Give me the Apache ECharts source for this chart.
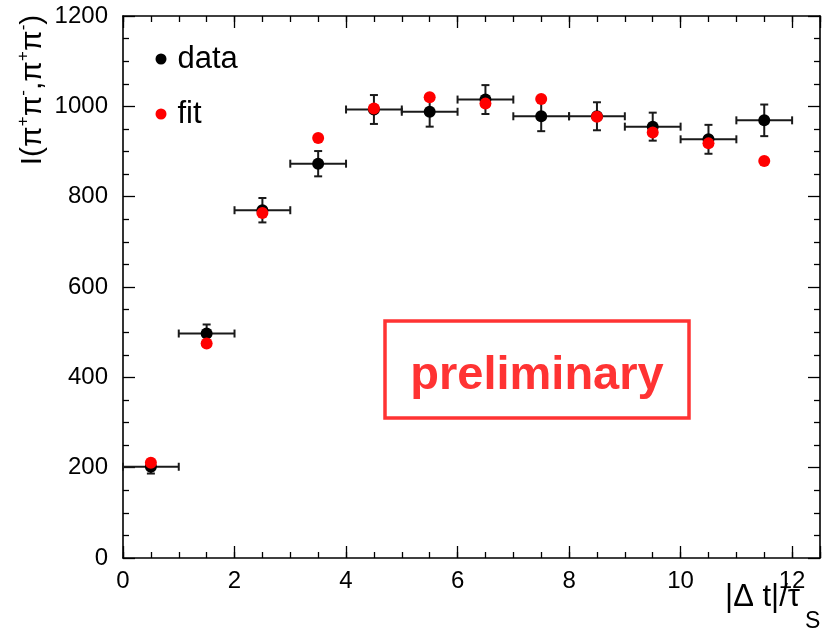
<!DOCTYPE html>
<html>
<head>
<meta charset="utf-8">
<script src="https://cdn.jsdelivr.net/npm/echarts@6/dist/echarts.min.js"></script>
<style>
  html, body { margin: 0; padding: 0; background: #fff; }
  #chart { width: 836px; height: 637px; }
</style>
</head>
<body>
<div id="chart"></div>
<script>
// ---- data ----
const binCenters = [0.5, 1.5, 2.5, 3.5, 4.5, 5.5, 6.5, 7.5, 8.5, 9.5, 10.5, 11.5];
const binHalfWidth = 0.5;
const dataValues = [202, 497, 770, 873, 993, 988, 1015, 978, 978, 955, 927, 969];
const dataErrors = [15, 20, 27, 28, 32, 33, 32, 33, 31, 31, 32, 35];
const fitValues  = [211, 475, 764, 930, 995, 1020, 1006, 1016, 977, 942, 918, 879];
const xTickLabels = ['0', '2', '4', '6', '8', '10', '12'];
const yTickLabels = ['0', '200', '400', '600', '800', '1000', '1200'];

const FONT = '"Liberation Sans", Arial, Helvetica, sans-serif';
const chart = echarts.init(document.getElementById('chart'), null, { renderer: 'canvas' });

const errData = binCenters.map((x, i) => [x, dataValues[i], binHalfWidth, dataErrors[i]]);
const dataPts = binCenters.map((x, i) => [x, dataValues[i]]);
const fitPts = binCenters.map((x, i) => [x, fitValues[i]]);

function xAxisDef(pos, minor, labels) {
  return {
    type: 'value', gridIndex: 0, position: pos, min: 0, max: 12.5,
    interval: minor ? 0.5 : 2,
    axisLine: { show: !minor, onZero: false, lineStyle: { color: '#000', width: 1.6 } },
    axisTick: { show: true, inside: true, length: minor ? 6 : 12, lineStyle: { color: '#000', width: 1.3 } },
    axisLabel: {
      show: labels, margin: 11, color: '#000', fontSize: 24, fontFamily: FONT,
      formatter: v => (xTickLabels.indexOf(String(v)) >= 0 ? String(v) : '')
    },
    splitLine: { show: false }
  };
}
function yAxisDef(pos, labels) {
  return {
    type: 'value', gridIndex: 0, position: pos, min: 0, max: 1200, interval: 200,
    axisLine: { show: true, onZero: false, lineStyle: { color: '#000', width: 1.6 } },
    axisTick: { show: true, inside: true, length: 12, lineStyle: { color: '#000', width: 1.3 } },
    minorTick: { show: true, splitNumber: 4, length: 6, lineStyle: { color: '#000', width: 1.3 } },
    axisLabel: {
      show: labels, margin: 15, color: '#000', fontSize: 24, fontFamily: FONT,
      formatter: v => (yTickLabels.indexOf(String(v)) >= 0 ? String(v) : '')
    },
    splitLine: { show: false }
  };
}

const option = {
  animation: false,
  backgroundColor: '#fff',
  grid: { left: 123, right: 16, top: 16, bottom: 79, containLabel: false },
  xAxis: [
    xAxisDef('bottom', false, true),
    xAxisDef('bottom', true, false),
    xAxisDef('top', false, false),
    xAxisDef('top', true, false)
  ],
  yAxis: [yAxisDef('left', true), yAxisDef('right', false)],
  legend: {
    orient: 'vertical', left: 155.5, top: 42, itemGap: 21, padding: 0,
    itemWidth: 11, itemHeight: 11, selectedMode: false,
    data: [{ name: 'data', icon: 'circle' }, { name: 'fit', icon: 'circle' }],
    textStyle: { fontSize: 31, fontFamily: FONT, color: '#000', lineHeight: 34, padding: [0, 0, 0, 6] }
  },
  series: [
    {
      type: 'custom', name: 'errors', xAxisIndex: 0, yAxisIndex: 0, data: errData, z: 2,
      renderItem: function (params, api) {
        const x = api.value(0), y = api.value(1), ex = api.value(2), ey = api.value(3);
        const l = api.coord([x - ex, y]), r = api.coord([x + ex, y]);
        const t = api.coord([x, y + ey]), b = api.coord([x, y - ey]);
        const cap = 4;
        const st = { stroke: '#1a1a1a', lineWidth: 2 };
        const ln = (x1, y1, x2, y2) => ({ type: 'line', shape: { x1, y1, x2, y2 }, style: st });
        return {
          type: 'group',
          children: [
            ln(l[0], l[1], r[0], r[1]),
            ln(t[0], t[1], b[0], b[1]),
            ln(l[0], l[1] - cap, l[0], l[1] + cap),
            ln(r[0], r[1] - cap, r[0], r[1] + cap),
            ln(t[0] - cap, t[1], t[0] + cap, t[1]),
            ln(b[0] - cap, b[1], b[0] + cap, b[1])
          ]
        };
      }
    },
    {
      type: 'scatter', name: 'data', xAxisIndex: 0, yAxisIndex: 0, data: dataPts, z: 3,
      symbol: 'circle', symbolSize: 12, itemStyle: { color: '#000', opacity: 1 }
    },
    {
      type: 'scatter', name: 'fit', xAxisIndex: 0, yAxisIndex: 0, data: fitPts, z: 4,
      symbol: 'circle', symbolSize: 12, itemStyle: { color: '#ff0000', opacity: 1 }
    }
  ],
  graphic: [
    {
      type: 'rect', z: 10,
      shape: { x: 385, y: 321, width: 304, height: 97 },
      style: { fill: 'none', stroke: '#ff3333', lineWidth: 3.5 }
    },
    {
      type: 'text', z: 10, x: 537, y: 376,
      style: {
        text: 'preliminary', fill: '#ff3333', font: 'bold 47px ' + FONT,
        align: 'center', verticalAlign: 'middle'
      }
    },
    {
      type: 'text', z: 10, x: 800, y: 597,
      style: { text: '|\u0394 t|/\u03c4', fill: '#000', font: '31px ' + FONT, align: 'right', verticalAlign: 'middle' }
    },
    {
      type: 'text', z: 10, x: 805, y: 622,
      style: { text: 'S', fill: '#000', font: '23px ' + FONT, align: 'left', verticalAlign: 'middle' }
    },
    {
      type: 'text', z: 10, x: 33, y: 90, rotation: Math.PI / 2,
      style: {
        text: '{m|I(\u03c0}{s|+}{m|\u03c0}{s|-}{m|,\u03c0}{s|+}{m|\u03c0}{s|-}{m|)}',
        align: 'center', verticalAlign: 'middle', fill: '#000',
        rich: {
          m: { fontSize: 30, fontFamily: FONT, lineHeight: 36, fill: '#000', verticalAlign: 'middle' },
          s: { fontSize: 17, fontFamily: FONT, lineHeight: 17, fill: '#000', verticalAlign: 'top' }
        }
      }
    }
  ]
};
chart.setOption(option);
</script>
</body>
</html>
